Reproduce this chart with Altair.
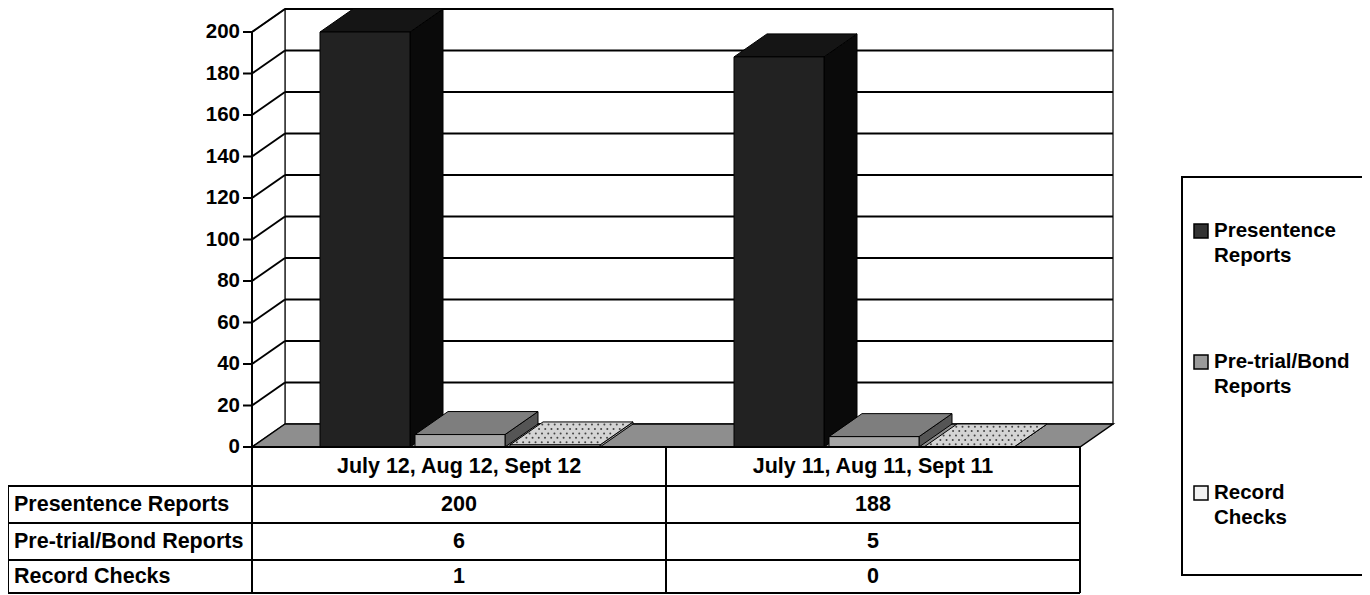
import altair as alt
import pandas as pd

# ---------------- data ----------------
CATEGORIES = ["July 12, Aug 12, Sept 12", "July 11, Aug 11, Sept 11"]
SERIES = ["Presentence Reports", "Pre-trial/Bond Reports", "Record Checks"]
PRESENTENCE = [200, 188]
PRETRIAL = [6, 5]
RECORD = [1, 0]
Y_TICKS = [0, 20, 40, 60, 80, 100, 120, 140, 160, 180, 200]
Y_MAX = 200

# ---------------- layout (reference pixels) ----------------
FRONT_X = 252.0      # front axis
CAT_W = 414.0        # width of one category
ZERO_Y = 447.0       # value 0
PX_PER_UNIT = 2.075  # pixels per value unit
DEPTH_DX = 33.0
DEPTH_DY = 23.0
W, H = 1354, 587
REF_TOP, REF_BOTTOM = 8.0, 595.0
REF_LEFT, REF_RIGHT = 8.0, 1362.0


def U(px):
    return (px - FRONT_X) / CAT_W


def V(py):
    return (ZERO_Y - py) / PX_PER_UNIT


DU = DEPTH_DX / CAT_W
DV = DEPTH_DY / PX_PER_UNIT
BAR_START = 68.0 / CAT_W
BAR_W = 90.0 / CAT_W
BAR_STEP = 95.0 / CAT_W
NCAT = len(CATEGORIES)

FONT = "Liberation Sans"
XS = alt.Scale(domain=[U(REF_LEFT), U(REF_RIGHT)], nice=False, zero=False)
YS = alt.Scale(domain=[V(REF_BOTTOM), V(REF_TOP)], nice=False, zero=False)

FRONT_C = ["#222222", "#a6a6a6", "#d0d0d0"]
TOP_C = ["#151515", "#7e7e7e", "#d4d4d4"]
SIDE_C = ["#0a0a0a", "#555555", "#9c9c9c"]
LEG_C = ["#333333", "#9a9a9a", "#f2f2f2"]


def X(f, **kw):
    return alt.X(f, scale=XS, axis=None, **kw)


def Y(f, **kw):
    return alt.Y(f, scale=YS, axis=None, **kw)


def rules(df, color="black", width=2):
    return alt.Chart(df).mark_rule(color=color, strokeWidth=width).encode(
        x=X("x:Q"), x2="x2:Q", y=Y("y:Q"), y2="y2:Q")


layers = []

# back wall
back = pd.DataFrame([dict(x=DU, x2=NCAT + DU, y=DV, y2=Y_MAX + DV)])
layers.append(alt.Chart(back).mark_rect(fill="white", stroke="#333333", strokeWidth=1.5).encode(
    x=X("x:Q"), x2="x2:Q", y=Y("y:Q"), y2="y2:Q"))

# left side wall (vertical area)
side_wall = pd.DataFrame([dict(x=0.0, ya=0.0, yb=Y_MAX), dict(x=DU, ya=DV, yb=Y_MAX + DV)])
layers.append(alt.Chart(side_wall).mark_area(fill="white", stroke="#333333", strokeWidth=1.5).encode(
    x=X("x:Q"), y=Y("ya:Q", stack=None), y2="yb:Q"))

# gridlines
diag = pd.DataFrame([dict(x=0.0, x2=DU, y=t, y2=t + DV) for t in Y_TICKS if t > 0])
horiz = pd.DataFrame([dict(x=DU, x2=NCAT + DU, y=t + DV, y2=t + DV) for t in Y_TICKS if t > 0])
layers.append(rules(diag, width=2))
layers.append(rules(horiz, width=2))

# floor (horizontal area)
floor = pd.DataFrame([dict(y=0.0, xa=0.0, xb=float(NCAT)), dict(y=DV, xa=DU, xb=NCAT + DU)])
layers.append(alt.Chart(floor).mark_area(orient="horizontal", fill="#8e8e8e", stroke="black", strokeWidth=1.5).encode(
    y=Y("y:Q"), x=X("xa:Q", stack=None), x2="xb:Q"))

# bars
for j, vals in enumerate([PRESENTENCE, PRETRIAL, RECORD]):
    front_rows, top_rows, side_rows, dots = [], [], [], []
    for i, v in enumerate(vals):
        x0 = i + BAR_START + j * BAR_STEP
        x1 = x0 + BAR_W
        bid = f"{j}-{i}"
        front_rows.append(dict(id=bid, x0=x0, x1=x1, base=0.0, value=v))
        top_rows += [dict(id=bid, y=v, xa=x0, xb=x1),
                     dict(id=bid, y=v + DV, xa=x0 + DU, xb=x1 + DU)]
        side_rows += [dict(id=bid, x=x1, ya=0.0, yb=v),
                      dict(id=bid, x=x1 + DU, ya=DV, yb=v + DV)]
        if j == 2:  # dotted texture on the record-check tiles
            nr, nc = 5, 14
            for r in range(nr):
                f = (r + 0.6) / (nr + 0.2)
                for c in range(nc):
                    g = (c + 0.5 + 0.5 * (r % 2)) / (nc + 0.5)
                    dots.append(dict(x=x0 + DU * f + (x1 - x0) * g, y=v + DV * f))
    layers.append(alt.Chart(pd.DataFrame(side_rows)).mark_area(
        fill=SIDE_C[j], stroke="black", strokeWidth=1).encode(
        x=X("x:Q"), y=Y("ya:Q", stack=None), y2="yb:Q", detail="id:N"))
    layers.append(alt.Chart(pd.DataFrame(top_rows)).mark_area(
        orient="horizontal", fill=TOP_C[j], stroke="black", strokeWidth=1).encode(
        y=Y("y:Q"), x=X("xa:Q", stack=None), x2="xb:Q", detail="id:N"))
    if dots:
        layers.append(alt.Chart(pd.DataFrame(dots)).mark_circle(
            size=4, color="#444444", opacity=1).encode(x=X("x:Q"), y=Y("y:Q")))
    layers.append(alt.Chart(pd.DataFrame(front_rows)).mark_rect(
        fill=FRONT_C[j], stroke="black", strokeWidth=1).encode(
        x=X("x0:Q"), x2="x1:Q", y=Y("base:Q"), y2="value:Q"))

# front axis line (continues down as table divider), ticks, labels
TABLE_TOP, TABLE_BOTTOM = 447.0, 593.0
ROW_LINES = [486.0, 523.0, 560.0, 593.0]
layers.append(rules(pd.DataFrame([dict(x=0.0, x2=0.0, y=V(TABLE_BOTTOM), y2=Y_MAX)]), width=2))
ticks = pd.DataFrame([dict(x=U(243), x2=0.0, y=t, y2=t) for t in Y_TICKS])
layers.append(rules(ticks, width=2))
tick_lab = pd.DataFrame([dict(x=U(240), y=t, label=str(t)) for t in Y_TICKS])
layers.append(alt.Chart(tick_lab).mark_text(
    align="right", baseline="middle", font=FONT, fontSize=20.5, fontWeight="bold", color="black").encode(
    x=X("x:Q"), y=Y("y:Q"), text="label:N"))

# data table
vlines = [dict(x=U(REF_LEFT), x2=U(REF_LEFT), y=V(ROW_LINES[0]), y2=V(TABLE_BOTTOM))]
for c in range(1, NCAT + 1):
    vlines.append(dict(x=float(c), x2=float(c), y=V(TABLE_TOP), y2=V(TABLE_BOTTOM)))
hlines = [dict(x=U(REF_LEFT), x2=float(NCAT), y=V(r), y2=V(r)) for r in ROW_LINES]
hlines.append(dict(x=0.0, x2=float(NCAT), y=0.0, y2=0.0))
layers.append(rules(pd.DataFrame(vlines), width=2))
layers.append(rules(pd.DataFrame(hlines), width=2))

row_bounds = [TABLE_TOP] + ROW_LINES
row_centers = [(row_bounds[k] + row_bounds[k + 1]) / 2 for k in range(len(row_bounds) - 1)]
cells = []
for i, cat in enumerate(CATEGORIES):
    cells.append(dict(x=i + 0.5, y=V(row_centers[0]), text=cat))
for r, (name, vals) in enumerate(zip(SERIES, [PRESENTENCE, PRETRIAL, RECORD])):
    for i, v in enumerate(vals):
        cells.append(dict(x=i + 0.5, y=V(row_centers[r + 1]), text=str(v)))
cells_df = pd.DataFrame(cells)
layers.append(alt.Chart(cells_df).mark_text(
    align="center", baseline="middle", font=FONT, fontSize=21.5, fontWeight="bold", color="black").encode(
    x=X("x:Q"), y=Y("y:Q"), text="text:N"))
row_lab = pd.DataFrame([dict(x=U(14), y=V(row_centers[r + 1]), text=name) for r, name in enumerate(SERIES)])
layers.append(alt.Chart(row_lab).mark_text(
    align="left", baseline="middle", font=FONT, fontSize=21.5, fontWeight="bold", color="black").encode(
    x=X("x:Q"), y=Y("y:Q"), text="text:N"))

# legend
box = pd.DataFrame([dict(x=U(1182), x2=U(1364), y=V(575), y2=V(177))])
layers.append(alt.Chart(box).mark_rect(fill="white", stroke="black", strokeWidth=2).encode(
    x=X("x:Q"), x2="x2:Q", y=Y("y:Q"), y2="y2:Q"))
LEG_Y = [231.0, 362.0, 493.0]
leg = pd.DataFrame([dict(x=U(1201), tx=U(1214), y=V(LEG_Y[k]), ty=V(LEG_Y[k]),
                         name=SERIES[k].rsplit(" ", 1)[0] + "\n" + SERIES[k].rsplit(" ", 1)[1],
                         color=LEG_C[k]) for k in range(len(SERIES))])
layers.append(alt.Chart(leg).mark_square(size=196, stroke="black", strokeWidth=1.5, opacity=1).encode(
    x=X("x:Q"), y=Y("y:Q"), fill=alt.Fill("color:N", scale=None)))
layers.append(alt.Chart(leg).mark_text(
    align="left", baseline="middle", lineBreak="\n", lineHeight=25, font=FONT, fontSize=20.5,
    fontWeight="bold", color="black").encode(
    x=X("tx:Q"), y=Y("ty:Q"), text="name:N"))

chart = alt.layer(*layers).properties(
    width=W, height=H, autosize=alt.AutoSizeParams(type="none"), padding=0, background="white"
).configure_view(stroke=None)

chart.save("out.html", embed_options={"renderer": "svg", "actions": False})
